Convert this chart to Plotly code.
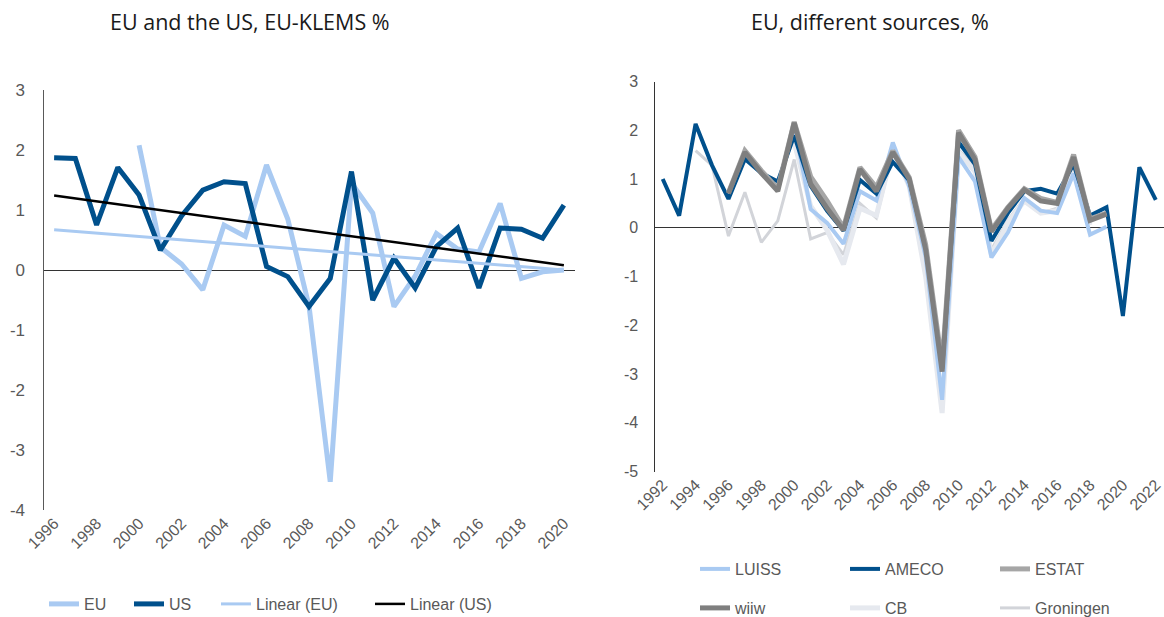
import plotly.graph_objects as go

# ---------------- data ----------------
years_l = list(range(1996, 2021))
us = [1.87, 1.86, 0.75, 1.71, 1.25, 0.33, 0.90, 1.33, 1.47, 1.44, 0.06, -0.11, -0.61,
      -0.14, 1.64, -0.50, 0.20, -0.30, 0.39, 0.70, -0.30, 0.70, 0.68, 0.53, 1.08]
eu = [None, None, None, None, 2.08, 0.38, 0.10, -0.33, 0.75, 0.56, 1.75, 0.85, -0.60,
      -3.53, 1.45, 0.95, -0.61, -0.10, 0.61, 0.35, 0.30, 1.11, -0.14, -0.03, 0.00]
trend_years = [1996, 2020]
lin_eu = [0.67, 0.00]
lin_us = [1.24, 0.08]

years_r = list(range(1992, 2023))
ameco = [1.00, 0.25, 2.13, 1.28, 0.59, 1.41, 1.12, 0.95, 1.89, 0.86, 0.35, -0.06, 0.98,
         0.70, 1.35, 0.97, -0.40, -2.90, 1.76, 1.30, -0.27, 0.30, 0.75, 0.80, 0.70, 1.30,
         0.25, 0.42, -1.81, 1.24, 0.57]
luiss = [None] * 8 + [2.08, 0.38, 0.10, -0.33, 0.75, 0.56, 1.75, 0.85, -0.60, -3.53, 1.45,
                      0.95, -0.61, -0.10, 0.61, 0.35, 0.30, 1.11, -0.14, 0.02] + [None] * 3
estat = [None] * 4 + [0.72, 1.58, 1.17, 0.80, 2.17, 1.05, 0.55, 0.00, 1.24, 0.83, 1.58, 1.03,
                      -0.35, -2.80, 2.00, 1.45, -0.04, 0.42, 0.80, 0.60, 0.52, 1.50, 0.18,
                      0.30] + [None] * 3
wiiw = [None] * 4 + [0.70, 1.55, 1.12, 0.75, 2.15, 0.90, 0.40, -0.05, 1.20, 0.75, 1.55, 1.00,
                     -0.45, -2.95, 1.95, 1.40, -0.08, 0.40, 0.78, 0.55, 0.50, 1.45, 0.15,
                     0.28] + [None] * 3
cb = [None] * 8 + [1.75, 0.45, -0.05, -0.75, 0.40, 0.25, 1.60, 0.85, -1.00, -3.80, 1.55, 1.15,
                   -0.55, 0.10, 0.55, 0.30, 0.35, 1.20, 0.05] + [None] * 4
groningen = [None] * 2 + [1.58, 1.28, -0.17, 0.73, -0.30, 0.14, 1.40, -0.23, -0.10, -0.55,
                          0.50, 0.20, 1.55, 0.90, -0.80, -3.65, 1.60, 1.25, -0.45, 0.15,
                          0.60, 0.30, 0.40, 1.15] + [None] * 5

left_ticks = list(range(1996, 2021, 2))
right_ticks = list(range(1992, 2023, 2))
left_yticks = list(range(-4, 4))
right_yticks = list(range(-5, 4))

# ---------------- styles ----------------
C_LB = "#a9caf2"
C_DB = "#00508c"
GREY_TXT = "#595959"
TICK_FONT = dict(family="Liberation Sans, Arial", size=16, color=GREY_TXT)
LEG_FONT = dict(family="Liberation Sans, Arial", size=16, color=GREY_TXT)

W, H = 1164, 617


def px_x(p):
    return p / W


def px_y(p):
    return (H - p) / H


fig = go.Figure()

# legend slots: (text start x px, center y px)
left_series = [
    ("EU", years_l, eu, C_LB, 5, (84, 604)),
    ("US", years_l, us, C_DB, 5, (169, 604)),
    ("Linear (EU)", trend_years, lin_eu, C_LB, 3, (256, 604)),
    ("Linear (US)", trend_years, lin_us, "#000000", 2.5, (410, 604)),
]

right_series = [
    ("Groningen", groningen, "#d2d4d9", 3, (1035, 608)),
    ("CB", cb, "#e6e9ef", 5, (885, 608)),
    ("LUISS", luiss, C_LB, 4, (735, 569)),
    ("AMECO", ameco, C_DB, 4, (885, 569)),
    ("ESTAT", estat, "#a6a6a6", 5, (1035, 569)),
    ("wiiw", wiiw, "#7f7f7f", 5, (735, 608)),
]

legends = {}
k = 1
for name, xs, vals, col, w, (tx, ty) in left_series:
    lname = "legend" if k == 1 else f"legend{k}"
    fig.add_trace(go.Scatter(x=xs, y=vals, name=name, mode="lines",
                             line=dict(color=col, width=w), xaxis="x", yaxis="y",
                             legend=lname))
    legends[lname] = dict(x=px_x(tx - 40), y=px_y(ty), xanchor="left", yanchor="middle",
                          font=LEG_FONT, bgcolor="rgba(0,0,0,0)", borderwidth=0,
                          orientation="h")
    k += 1

for name, vals, col, w, (tx, ty) in right_series:
    lname = f"legend{k}"
    fig.add_trace(go.Scatter(x=years_r, y=vals, name=name, mode="lines",
                             line=dict(color=col, width=w), xaxis="x2", yaxis="y2",
                             legend=lname))
    legends[lname] = dict(x=px_x(tx - 40), y=px_y(ty), xanchor="left", yanchor="middle",
                          font=LEG_FONT, bgcolor="rgba(0,0,0,0)", borderwidth=0,
                          orientation="h")
    k += 1

fig.update_layout(
    width=W, height=H,
    margin=dict(l=0, r=0, t=0, b=0, pad=0, autoexpand=False),
    paper_bgcolor="white", plot_bgcolor="white",
    showlegend=True,
    xaxis=dict(domain=[px_x(43.5), px_x(574.5)], range=[1995.5, 2020.5],
               tickvals=left_ticks, ticktext=[str(t) for t in left_ticks],
               tickangle=-45, tickfont=TICK_FONT, showgrid=False, zeroline=False,
               showline=False, ticks="", anchor="y", automargin=False),
    yaxis=dict(domain=[px_y(510), px_y(90)], range=[-4, 3],
               tickvals=left_yticks, ticktext=[str(t) for t in left_yticks],
               tickfont=dict(family="Liberation Sans, Arial", size=17, color=GREY_TXT),
               showgrid=False, zeroline=True, zerolinecolor="#333333", zerolinewidth=1.2,
               showline=True, linecolor="#595959", linewidth=1.2, ticks="",
               anchor="x", ticklabelstandoff=14, automargin=False),
    xaxis2=dict(domain=[px_x(654.5), 1.0], range=[1991.5, 2022.5],
                tickvals=right_ticks, ticktext=[str(t) for t in right_ticks],
                tickangle=-45, tickfont=TICK_FONT, showgrid=False, zeroline=False,
                showline=False, ticks="", anchor="y2", automargin=False),
    yaxis2=dict(domain=[px_y(471.5), px_y(81.5)], range=[-5, 3],
                tickvals=right_yticks, ticktext=[str(t) for t in right_yticks],
                tickfont=dict(family="Liberation Sans, Arial", size=16, color=GREY_TXT),
                showgrid=False, zeroline=True, zerolinecolor="#333333", zerolinewidth=1.2,
                showline=True, linecolor="#333333", linewidth=1.2, ticks="",
                anchor="x2", ticklabelstandoff=12, automargin=False),
    annotations=[
        dict(text="EU and the US, EU-KLEMS %", x=px_x(250), y=px_y(22), xref="paper",
             yref="paper", showarrow=False, xanchor="center", yanchor="middle",
             font=dict(family="Open Sans", size=21.5, color="#1a1a1a")),
        dict(text="EU, different sources, %", x=px_x(870), y=px_y(22), xref="paper",
             yref="paper", showarrow=False, xanchor="center", yanchor="middle",
             font=dict(family="Open Sans", size=21.5, color="#1a1a1a")),
    ],
)
fig.update_layout(**legends)

fig.write_html(
    "out.html",
    config={"displayModeBar": False},
    post_script="document.body.style.margin='0';document.body.style.overflow='hidden';",
)
